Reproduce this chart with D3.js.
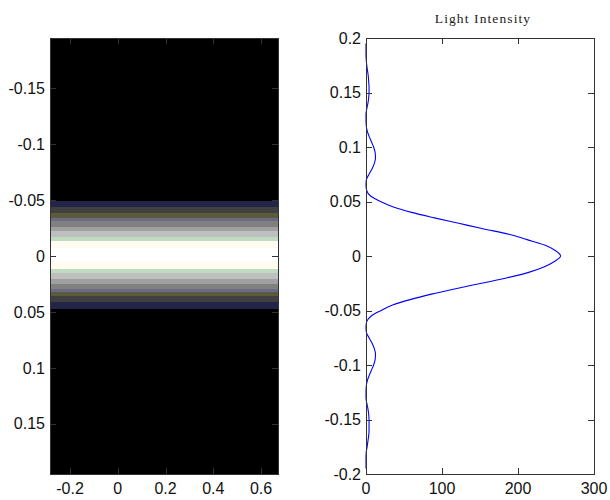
<!DOCTYPE html>
<html>
<head>
<meta charset="utf-8">
<script src="https://cdn.jsdelivr.net/npm/d3@7"></script>
<style>
    body { margin: 0; background: #fff; }
    text { font-family: "Liberation Sans", Arial, sans-serif; }
</style>
</head>
<body>
<script>
//---------------------------DATA-------------------------------//
// left panel: horizontal bands of the beam image (edges in y, level per band)
const bandEdges = [-0.195, -0.0488, -0.0435, -0.0381, -0.0337, -0.031, -0.0256, -0.022, -0.0167,
    -0.0131, -0.0069, 0.0047, 0.0119, 0.0154, 0.0208, 0.0253, 0.0297, 0.0324, 0.036, 0.0413, 0.0476, 0.195];
const bandLevels = [0, 35, 55, 80, 105, 130, 160, 190, 215, 235, 255,
    235, 215, 190, 160, 130, 105, 80, 55, 35, 0];
const leftXTicks = [-0.2, 0, 0.2, 0.4, 0.6];
const leftYTicks = [-0.15, -0.1, -0.05, 0, 0.05, 0.1, 0.15];

// right panel: light intensity profile
const yValues = [-0.195, -0.19, -0.185, -0.18, -0.175, -0.17, -0.165, -0.16, -0.155, -0.15,
    -0.145, -0.14, -0.135, -0.13, -0.125, -0.12, -0.115, -0.11, -0.105, -0.1,
    -0.095, -0.09, -0.085, -0.08, -0.075, -0.07, -0.065, -0.06, -0.055, -0.05,
    -0.045, -0.04, -0.035, -0.03, -0.025, -0.02, -0.015, -0.01, -0.005, 0,
    0.005, 0.01, 0.015, 0.02, 0.025, 0.03, 0.035, 0.04, 0.045, 0.05,
    0.055, 0.06, 0.065, 0.07, 0.075, 0.08, 0.085, 0.09, 0.095, 0.1,
    0.105, 0.11, 0.115, 0.12, 0.125, 0.13, 0.135, 0.14, 0.145, 0.15,
    0.155, 0.16, 0.165, 0.17, 0.175, 0.18, 0.185, 0.19, 0.195];
const intensity = [0, 0, 0, 0.3, 1.5, 2.5, 3.5, 4, 4, 4,
    3.5, 2.5, 1, 0, 0, 0.3, 1.5, 4, 7, 10,
    12, 12.5, 11, 8, 4, 0.5, 0, 1, 7, 20,
    35, 58, 86, 118, 152, 186, 214, 234, 248, 256,
    249, 235, 212, 188, 154, 122, 90, 60, 36, 19,
    6, 1, 0, 0.5, 4, 8, 11, 12.5, 12, 10,
    7, 4, 1.5, 0.3, 0, 0, 1, 2.5, 3.5, 4,
    4, 3.5, 3, 2, 1, 0.3, 0, 0, 0];
const rightXTicks = [0, 100, 200, 300];
const rightYTicks = [-0.2, -0.15, -0.1, -0.05, 0, 0.05, 0.1, 0.15, 0.2];

//---------------------------SVG--------------------------------//
const width = 610;
const height = 500;
const tickLen = 6;
const axisColor = "#333";

const svg = d3.select("body").append("svg")
    .attr("width", width)
    .attr("height", height);

//--------------------------SCALES------------------------------//
const lx = d3.scaleLinear().domain([-0.284, 0.671]).range([50, 278]);
const ly = d3.scaleLinear().domain([-0.195, 0.195]).range([38, 474]);
const rx = d3.scaleLinear().domain([0, 300]).range([366, 594]);
const ry = d3.scaleLinear().domain([-0.2, 0.2]).range([474, 38]);

const bandColor = d3.scaleThreshold()
    .domain([20, 45, 68, 92, 118, 145, 175, 203, 225, 245])
    .range(["#000000", "#232548", "#404040", "#5b5a3b", "#6b6b88", "#808080",
        "#a0a0a0", "#bfbfbf", "#c0dcc0", "#fffbf0", "#ffffff"]);

//-----------------------LEFT: IMAGE----------------------------//
const left = svg.append("g");

left.selectAll("rect.band")
    .data(bandLevels)
    .enter()
    .append("rect")
    .attr("class", "band")
    .attr("x", lx.range()[0])
    .attr("width", lx.range()[1] - lx.range()[0])
    .attr("y", function(d, i) { return ly(bandEdges[i]); })
    .attr("height", function(d, i) { return ly(bandEdges[i + 1]) - ly(bandEdges[i]); })
    .attr("fill", function(d) { return bandColor(d); })
    .attr("shape-rendering", "crispEdges");

// matlab style box with inward ticks
function drawBox(g, xs, ys, xt, yt, fmtX, fmtY) {
    const x0 = xs.range()[0], x1 = xs.range()[1];
    const y0 = Math.min(ys.range()[0], ys.range()[1]);
    const y1 = Math.max(ys.range()[0], ys.range()[1]);

    g.append("rect")
        .attr("x", x0 + 0.5).attr("y", y0 + 0.5)
        .attr("width", x1 - x0).attr("height", y1 - y0)
        .attr("fill", "none")
        .attr("stroke", axisColor);

    const ticks = g.append("g").attr("stroke", axisColor).attr("shape-rendering", "crispEdges");
    xt.forEach(function(t) {
        const px = Math.round(xs(t)) + 0.5;
        ticks.append("line").attr("x1", px).attr("x2", px).attr("y1", y1).attr("y2", y1 - tickLen);
        ticks.append("line").attr("x1", px).attr("x2", px).attr("y1", y0).attr("y2", y0 + tickLen);
    });
    yt.forEach(function(t) {
        const py = Math.round(ys(t)) + 0.5;
        ticks.append("line").attr("x1", x0).attr("x2", x0 + tickLen).attr("y1", py).attr("y2", py);
        ticks.append("line").attr("x1", x1).attr("x2", x1 - tickLen).attr("y1", py).attr("y2", py);
    });

    g.selectAll("text.xt")
        .data(xt)
        .enter()
        .append("text")
        .attr("class", "xt")
        .attr("x", function(d) { return xs(d); })
        .attr("y", 494)
        .attr("text-anchor", "middle")
        .attr("font-size", 16)
        .attr("fill", "#111")
        .text(fmtX);

    g.selectAll("text.yt")
        .data(yt)
        .enter()
        .append("text")
        .attr("class", "yt")
        .attr("x", x0 - 5)
        .attr("y", function(d) { return ys(d); })
        .attr("dy", "0.36em")
        .attr("text-anchor", "end")
        .attr("font-size", 16)
        .attr("fill", "#111")
        .text(fmtY);
}

drawBox(left, lx, ly, leftXTicks, leftYTicks, String, String);

//-----------------------RIGHT: PROFILE-------------------------//
const right = svg.append("g");

const line = d3.line()
    .x(function(d, i) { return rx(d); })
    .y(function(d, i) { return ry(yValues[i]); })
    .curve(d3.curveMonotoneY);

right.append("path")
    .attr("d", line(intensity))
    .attr("fill", "none")
    .attr("stroke", "#0000ff")
    .attr("stroke-width", 1.1);

drawBox(right, rx, ry, rightXTicks, rightYTicks, String, String);

right.append("text")
    .attr("x", 483)
    .attr("y", 23)
    .attr("text-anchor", "middle")
    .style("font-family", "'Liberation Serif', 'Times New Roman', serif")
    .attr("font-size", 13.5)
    .attr("letter-spacing", 1.1)
    .attr("fill", "#222")
    .text("Light Intensity");
</script>
</body>
</html>
